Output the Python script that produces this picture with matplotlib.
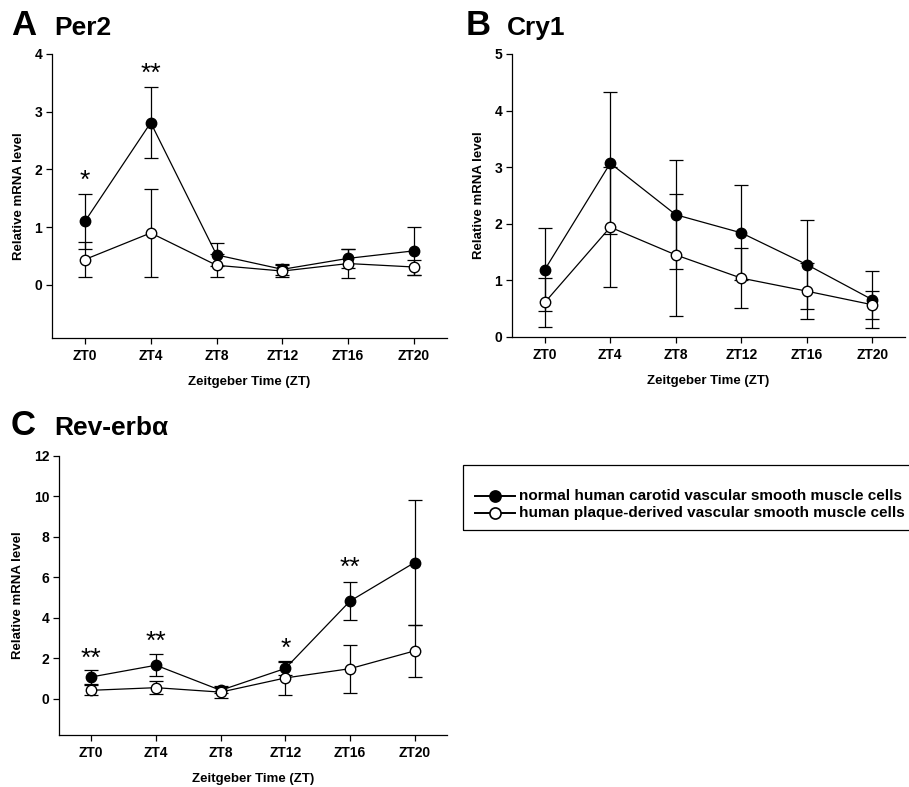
import matplotlib
matplotlib.use("Agg")
import matplotlib.pyplot as plt
from matplotlib.lines import Line2D
from matplotlib.patches import Rectangle

plt.rcParams['font.family'] = ['Liberation Sans', 'DejaVu Sans']
plt.rcParams['font.weight'] = 'bold'

# time points
zt = [0, 4, 8, 12, 16, 20]
zt_labels = ['ZT0', 'ZT4', 'ZT8', 'ZT12', 'ZT16', 'ZT20']

# Per2
per2_normal = [1.10, 2.81, 0.52, 0.27, 0.46, 0.59]
per2_normal_err = [0.48, 0.61, 0.20, 0.10, 0.16, 0.42]
per2_plaque = [0.44, 0.90, 0.34, 0.24, 0.37, 0.31]
per2_plaque_err = [0.30, 0.76, 0.20, 0.10, 0.25, 0.13]
per2_stars = {0: ('*', 1.80), 4: ('**', 3.65)}

# Cry1
cry1_normal = [1.19, 3.07, 2.16, 1.84, 1.28, 0.66]
cry1_normal_err = [0.73, 1.25, 0.96, 0.84, 0.78, 0.50]
cry1_plaque = [0.61, 1.94, 1.45, 1.04, 0.81, 0.57]
cry1_plaque_err = [0.44, 1.06, 1.08, 0.53, 0.49, 0.25]

# Rev-erb alpha
rev_normal = [1.07, 1.65, 0.41, 1.49, 4.82, 6.73]
rev_normal_err = [0.33, 0.54, 0.15, 0.31, 0.95, 3.11]
rev_plaque = [0.41, 0.54, 0.32, 1.02, 1.48, 2.36]
rev_plaque_err = [0.25, 0.33, 0.28, 0.82, 1.19, 1.29]
rev_stars = {0: ('**', 1.95), 4: ('**', 2.80), 12: ('*', 2.45), 16: ('**', 6.45)}

legend_labels = ['normal human carotid vascular smooth muscle cells',
                 'human plaque-derived vascular smooth muscle cells']

fig = plt.figure(figsize=(9.09, 7.87), dpi=100)


def panel(rect, normal, nerr, plaque, perr, ylim, yticks, stars):
    ax = fig.add_axes(rect)
    ax.errorbar(zt, normal, yerr=nerr, color='black', lw=0.9, elinewidth=0.9,
                capsize=5, capthick=0.9, marker='o', ms=7.5, mfc='black',
                mec='black', zorder=3)
    ax.errorbar(zt, plaque, yerr=perr, color='black', lw=0.9, elinewidth=0.9,
                capsize=5, capthick=0.9, marker='o', ms=7.5, mfc='white',
                mec='black', zorder=4)
    for x, (s, y) in stars.items():
        ax.text(x, y, s, ha='center', va='center', fontsize=19,
                fontweight='normal')
    ax.set_xlim(-2, 22)
    ax.set_ylim(*ylim)
    ax.set_xticks(zt)
    ax.set_xticklabels(zt_labels)
    ax.set_yticks(yticks)
    for s in ['top', 'right']:
        ax.spines[s].set_visible(False)
    ax.spines['left'].set_bounds(ylim[0], yticks[-1])
    ax.tick_params(labelsize=10, length=4, width=0.9)
    ax.tick_params(axis='x', pad=4)
    ax.tick_params(axis='y', pad=3)
    for s in ['left', 'bottom']:
        ax.spines[s].set_linewidth(0.9)
    ax.set_ylabel('Relative mRNA level', fontsize=9.5, fontweight='bold',
                  labelpad=7)
    ax.set_xlabel('Zeitgeber Time (ZT)', fontsize=9.5, fontweight='bold',
                  labelpad=9)
    return ax


panel([0.0572, 0.5705, 0.4345, 0.3609], per2_normal, per2_normal_err,
      per2_plaque, per2_plaque_err, (-0.92, 4), [0, 1, 2, 3, 4], per2_stars)
panel([0.5633, 0.5718, 0.4323, 0.3596], cry1_normal, cry1_normal_err,
      cry1_plaque, cry1_plaque_err, (0, 5), [0, 1, 2, 3, 4, 5], {})
panel([0.0649, 0.0661, 0.4268, 0.3545], rev_normal, rev_normal_err,
      rev_plaque, rev_plaque_err, (-1.8, 12), [0, 2, 4, 6, 8, 10, 12], rev_stars)

# panel titles
for x, lx, y, letter, name in [(11, 54, 35, 'A', 'Per2'),
                               (466, 507, 35, 'B', 'Cry1'),
                               (11, 54, 435, 'C', 'Rev-erbα')]:
    fig.text(x / 909, 1 - y / 787, letter, fontsize=25, fontweight='bold',
             va='baseline')
    fig.text(lx / 909, 1 - y / 787, name, fontsize=19, fontweight='bold',
             va='baseline')

# legend box (runs past the right edge, as in the original)
fig.patches.append(Rectangle((463 / 909, 1 - 530 / 787), 500 / 909, 65 / 787,
                             transform=fig.transFigure, fill=False,
                             edgecolor='black', lw=0.9))
for row_y, fc, label in [(496, 'black', legend_labels[0]),
                         (513, 'white', legend_labels[1])]:
    yf = 1 - row_y / 787
    fig.add_artist(Line2D([475 / 909, 515 / 909], [yf, yf], color='black',
                          lw=1.4, transform=fig.transFigure))
    fig.add_artist(Line2D([495 / 909], [yf], marker='o', ms=8, mfc=fc,
                          mec='black', mew=1.2, lw=0,
                          transform=fig.transFigure))
    fig.text(519 / 909, yf, label, fontsize=11, fontweight='bold',
             va='center')

fig.savefig('out.png', dpi=100)
